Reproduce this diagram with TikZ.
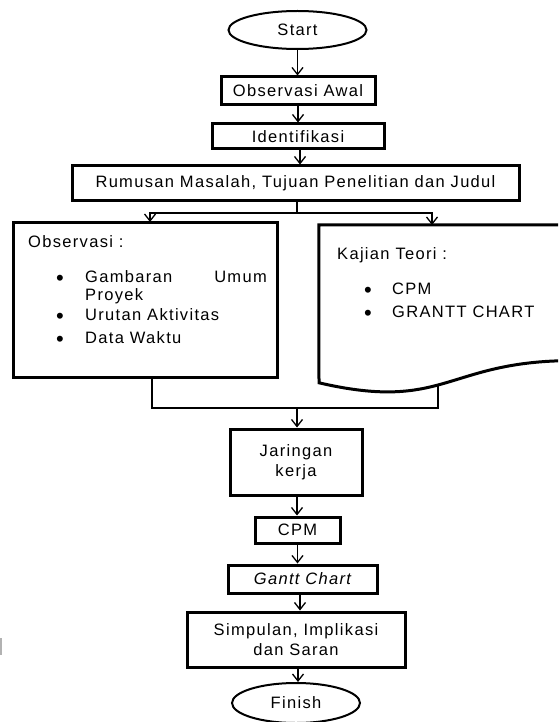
\documentclass[tikz,border=0pt]{standalone}
\usepackage{fontspec}
\setmainfont{Liberation Sans}[LetterSpace=8]
\usetikzlibrary{arrows.meta,shapes.geometric}

\begin{document}
\begin{tikzpicture}[x=1pt,y=-1pt,
  every node/.style={font=\fontsize{16.5}{20}\selectfont, text=black},
  box/.style={draw, line width=3pt, rectangle, inner sep=0pt, align=center},
  term/.style={draw, ellipse, line width=2pt, inner sep=0pt},
  link/.style={line width=1.3pt},
  flow/.style={link, -{Straight Barb[length=7pt,width=11pt,line width=1.3pt]}},
  lbl/.style={inner sep=0pt, anchor=mid west},
  dot/.style={inner sep=0pt, anchor=center, font=\fontsize{22}{22}\selectfont}]
\useasboundingbox (0,0) rectangle (558,722);
\begin{scope}
\clip (0,0) rectangle (558,722);

% main column
\node[term, minimum width=138, minimum height=38] (start) at (297.5,30) {Start};
\node[box, minimum width=154, minimum height=28] (obsawal) at (298,91) {Observasi Awal};
\node[box, minimum width=172, minimum height=25] (ident) at (298,136.5) {Identifikasi};
\node[box, minimum width=447, minimum height=34] (rumusan) at (295.5,183) {Rumusan Masalah, Tujuan Penelitian dan Judul};

% observation box and its list
\node[box, minimum width=264, minimum height=155] (obs) at (145,299.5) {};
\node[lbl] (obstitle) at (28,245) {Observasi :};
\node[dot] (ob1) at (60,280) {•};
\node[lbl] (oi1a) at (85,280) {Gambaran};
\node[inner sep=0pt, anchor=mid east] (oi1b) at (267,280) {Umum};
\node[lbl] (oi1c) at (85,298) {Proyek};
\node[dot] (ob2) at (60,318) {•};
\node[lbl] (oi2) at (85,318) {Urutan Aktivitas};
\node[dot] (ob3) at (60,341) {•};
\node[lbl] (oi3) at (85,341) {Data Waktu};

% theory document shape
\node[inner sep=0pt, minimum width=254, minimum height=169] (doc) at (446,309.5) {};
\draw[line width=3pt, line join=miter]
  (doc.north west) -- (doc.north east) -- (573,360.6)
  .. controls (446,360.6) and (446,412.3) .. (319,382.8) -- cycle;
\node[lbl] (doctitle) at (337,257) {Kajian Teori :};
\node[dot] (db1) at (368,292) {•};
\node[lbl] (di1) at (392,292) {CPM};
\node[dot] (db2) at (368,315) {•};
\node[lbl] (di2) at (392,315) {GRANTT CHART};

% lower column
\node[box, minimum width=132, minimum height=66] (jaringan) at (296,462) {Jaringan\\kerja};
\node[box, minimum width=85, minimum height=26] (cpm) at (297.5,530) {CPM};
\node[box, minimum width=149, minimum height=28] (gantt) at (302.5,579) {\itshape Gantt Chart};
\node[box, minimum width=218, minimum height=55] (simpulan) at (296,639.5) {Simpulan, Implikasi\\dan Saran};
\node[term, minimum width=128, minimum height=40] (finish) at (296,703) {Finish};

% connectors
\draw[flow] (start.south) -- (start.south |- obsawal.north);
\draw[flow] (obsawal.south) -- (obsawal.south |- ident.north);
\draw[flow] ([xshift=2pt]ident.south) -- ([xshift=2pt]ident.south |- rumusan.north);

\coordinate (split) at (297,213);
\coordinate (obsin) at (150,222);
\coordinate (docin) at (432,225);
\draw[link] (split |- rumusan.south) -- (split);
\draw[flow] (split) -| (obsin);
\draw[flow] (split) -| (docin);

\coordinate (docout) at (438,385);
\coordinate (join) at (297,408);
\draw[link] ([xshift=7pt]obs.south) |- (docout |- join) -- (docout);
\draw[flow] (join) -- (join |- jaringan.north);

\draw[flow] ([xshift=1pt]jaringan.south) -- ([xshift=1pt]jaringan.south |- cpm.north);
\draw[flow] (cpm.south) -- (cpm.south |- gantt.north);
\draw[flow] ([xshift=-2.5pt]gantt.south) -- ([xshift=-2.5pt]gantt.south |- simpulan.north);
\draw[flow] ([xshift=2pt]simpulan.south) -- ([xshift=2pt]simpulan.south |- finish.north);

% small mark at the left border
\draw[gray!60, line width=1.5pt] (0.75,638) -- (0.75,655);
\end{scope}
\end{tikzpicture}
\end{document}
